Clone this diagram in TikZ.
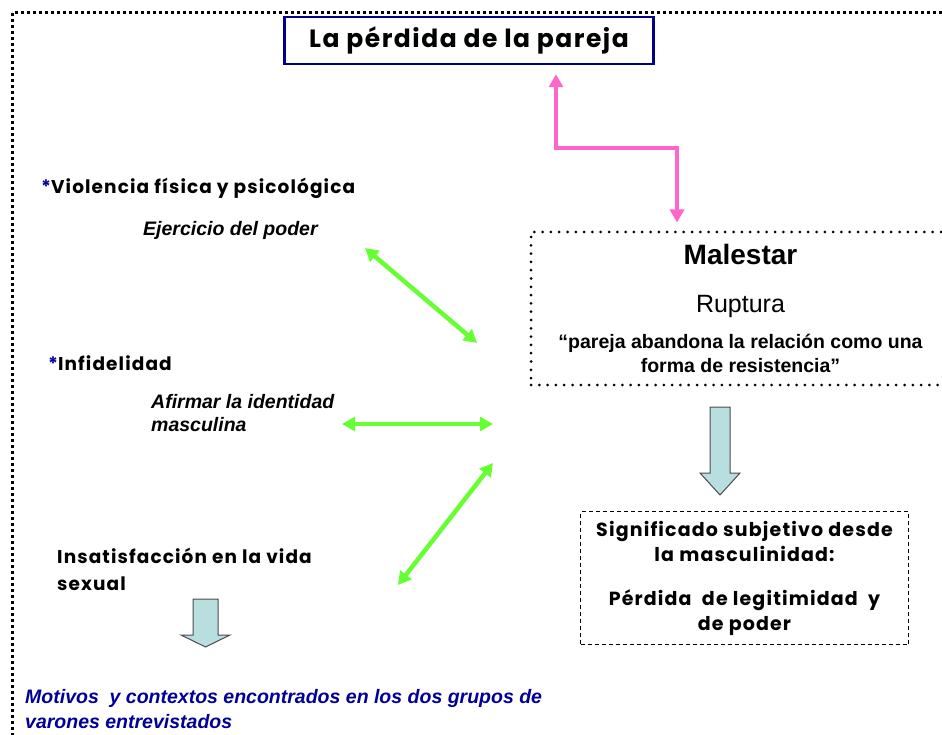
\documentclass[tikz,border=0pt]{standalone}
\usepackage{fontspec}
\setmainfont{Liberation Sans}
\newfontfamily\comic[LetterSpace=6]{Poppins}
\usetikzlibrary{arrows.meta}
\definecolor{titleblue}{RGB}{0,0,140}
\definecolor{pinkline}{RGB}{255,102,204}
\definecolor{greenline}{RGB}{102,255,51}
\definecolor{boxblue}{RGB}{184,222,224}
\definecolor{textblue}{RGB}{0,0,153}
\newcommand\fs[2]{\fontsize{#1}{#2}\selectfont}
\newcommand\blockarrow[6]{\draw[fatarrow] ({#1-#5},#2) -- ({#1+#5},#2) -- ({#1+#5},#3) -- ({#1+#6},#3) -- (#1,#4) -- ({#1-#6},#3) -- ({#1-#5},#3) -- cycle;}
\begin{document}
\begin{tikzpicture}[x=1pt,y=-1pt,
  txt/.style = {anchor=west, inner sep=0, align=left},
  comictxt/.style = {txt, font=\comic\bfseries\fs{18.5}{27}},
  arialtxt/.style = {txt, font=\bfseries\itshape\fs{19.5}{23}},
  frame/.style = {line width=3pt, dash pattern=on 3pt off 3pt},
  twoway/.style = {greenline, line width=4.5pt, {Triangle[length=13pt,width=14pt]}-{Triangle[length=13pt,width=14pt]}},
  pinkarrow/.style = {pinkline, line width=4.5pt, {Triangle[length=13pt,width=14pt]}-{Triangle[length=13pt,width=14pt]}},
  fatarrow/.style = {fill=boxblue, draw=black!70, line width=1pt}]
\useasboundingbox (0,0) rectangle (942,735);
\draw[frame] (12,13) rectangle (960,760);
\node[draw=titleblue, line width=2.5pt, minimum width=369pt, minimum height=47pt, inner sep=0, font=\comic\bfseries\fs{25}{28}] (title) at (469,40.5) {La pérdida de la pareja};
\node[draw, line width=3pt, line cap=round, dash pattern=on 0pt off 8.3pt, minimum width=419pt, minimum height=153pt, inner sep=0, align=center, font=\bfseries\fs{19.5}{24}] (malestar) at (740.5,308.5)
  {{\fs{28}{30}Malestar}\\[24pt]{\mdseries\fs{25}{24}Ruptura}\\[11.5pt]“pareja abandona la relación como una\\forma de resistencia”};
\node[draw, line width=1.2pt, dash pattern=on 4pt off 3pt, minimum width=328pt, minimum height=133pt, inner sep=0, align=center, font=\comic\bfseries\fs{19}{25}] (signif) at (744.5,578)
  {Significado subjetivo desde\\la masculinidad:\\[19pt]Pérdida\ \ de legitimidad\ \ y\\de poder};
\node[comictxt] (viol) at (41,188) {\textcolor{textblue}{*}Violencia física y psicológica};
\node[arialtxt] (ejer) at (143,230) {Ejercicio del poder};
\node[comictxt] (infi) at (48,363) {\textcolor{textblue}{*}Infidelidad};
\node[arialtxt] (afir) at (151,413.5) {Afirmar la identidad\\masculina};
\node[comictxt] (insa) at (57,569.5) {Insatisfacción en la vida\\sexual};
\node[arialtxt, text=textblue, font=\bfseries\itshape\fs{19.5}{25}] (moti) at (25,709.5) {Motivos\ \ y contextos encontrados en los dos grupos de\\varones entrevistados};
\coordinate (p1) at (556,148);
\coordinate (p2) at (677,148);
\draw[pinkarrow, shorten <=9pt, shorten >=8pt] (title.south -| p1) -- (p1) -- (p2) -- (malestar.north -| p2);
\coordinate (g1) at (365,248);
\coordinate (g2) at (477,343);
\coordinate (g3) at (342,424);
\coordinate (g4) at (493,424);
\coordinate (g5) at (493,463);
\coordinate (g6) at (398,585);
\draw[twoway] (g1) -- (g2);
\draw[twoway] (g3) -- (g4);
\draw[twoway] (g5) -- (g6);
\blockarrow{720}{407}{473}{495}{10}{20}
\blockarrow{205.5}{599}{635}{647}{12.5}{24.5}
\end{tikzpicture}
\end{document}
